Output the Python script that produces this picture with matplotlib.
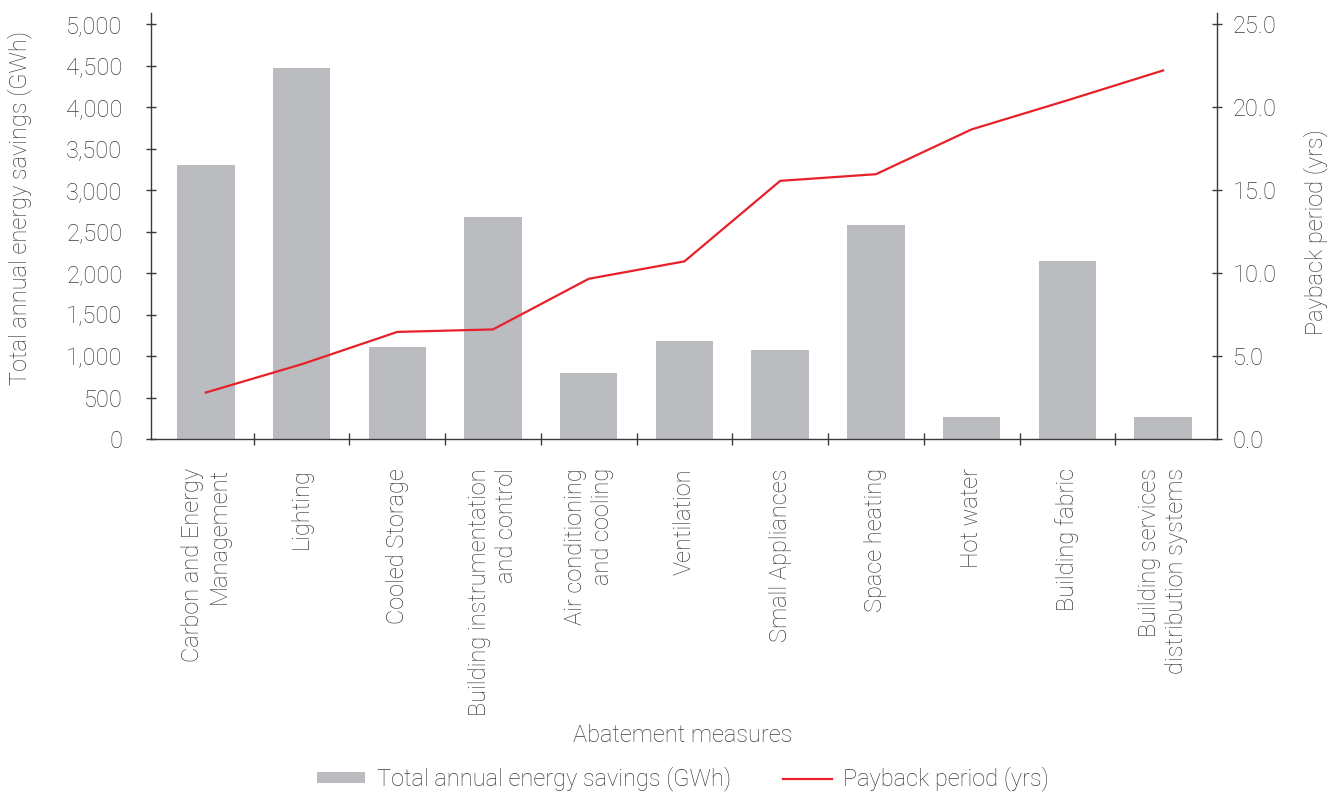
import matplotlib
matplotlib.use('Agg')
import matplotlib.pyplot as plt
import numpy as np
from matplotlib.ticker import FixedLocator, FuncFormatter

plt.rcParams['font.family'] = ['Roboto', 'DejaVu Sans']
plt.rcParams['font.weight'] = 'light'

# energy savings by abatement measure, with payback period
categories = ['Carbon and Energy\nManagement', 'Lighting', 'Cooled Storage',
              'Building instrumentation\nand control', 'Air conditioning\nand cooling',
              'Ventilation', 'Small Appliances', 'Space heating', 'Hot water',
              'Building fabric', 'Building services\ndistribution systems']
savings = [3300, 4470, 1110, 2675, 795, 1180, 1075, 2580, 265, 2145, 265]
payback = [2.8, 4.5, 6.45, 6.6, 9.65, 10.7, 15.55, 15.95, 18.65, 20.4, 22.2]

left_ticks = [0, 500, 1000, 1500, 2000, 2500, 3000, 3500, 4000, 4500, 5000]
right_ticks = [0, 5, 10, 15, 20, 25]

grey = '#bbbcc0'
red = '#e8202a'
txt = '#3c3c3c'
axc = '#3a3a3a'
fs = 17

fig = plt.figure(figsize=(13.38, 7.94), dpi=100)
ax = fig.add_axes([151/1338, 1-439/794, (1217-151)/1338, (439-13)/794])
ax2 = ax.twinx()

x = np.arange(len(categories))
bars = ax.bar(x, savings, width=0.6, color=grey, label='Total annual energy savings (GWh)', zorder=2)
line, = ax2.plot(x, payback, color=red, lw=1.6, label='Payback period (yrs)', zorder=3)

ax.set_xlim(-0.573, 10.563)
ax.set_ylim(0, 5133)
ax2.set_ylim(0, 25.66)

for a in (ax, ax2):
    a.spines['top'].set_visible(False)
    for s in a.spines.values():
        s.set_color(axc)
        s.set_linewidth(1.0)
ax.spines['right'].set_visible(False)
ax2.spines['left'].set_visible(False)
ax2.spines['bottom'].set_visible(False)

ax.yaxis.set_major_locator(FixedLocator(left_ticks))
ax.yaxis.set_major_formatter(FuncFormatter(lambda v, p: '{:,.0f}'.format(v)))
ax.tick_params(axis='y', direction='inout', length=7, width=1, color=axc,
               pad=17, labelsize=fs, labelcolor=txt)
ax2.yaxis.set_major_locator(FixedLocator(right_ticks))
ax2.yaxis.set_major_formatter(FuncFormatter(lambda v, p: '{:.1f}'.format(v)))
ax2.tick_params(axis='y', direction='inout', length=7, width=1, color=axc,
                pad=8, labelsize=fs, labelcolor=txt)

ax.set_xticks(x)
ax.set_xticklabels(categories, rotation=90, ha='center', va='top',
                   multialignment='right', fontsize=fs, color=txt)
ax.tick_params(axis='x', which='major', length=0, pad=21)
ax.set_xticks(np.arange(0.5, len(categories) - 1), minor=True)
ax.tick_params(axis='x', which='minor', direction='inout', length=8, width=1, color=axc)

fig.text(20/1338, 1-208/794, 'Total annual energy savings (GWh)', rotation=90,
         ha='center', va='center', fontsize=fs, color=txt)
fig.text(1316/1338, 1-232/794, 'Payback period (yrs)', rotation=90,
         ha='center', va='center', fontsize=fs, color=txt)
fig.text(683/1338, 1-735/794, 'Abatement measures', ha='center', va='center',
         fontsize=fs, color=txt)

leg = fig.legend(handles=[bars, line], loc='center', bbox_to_anchor=(683/1338, 1-779/794),
                 ncol=2, frameon=False, fontsize=fs, handlelength=2.05, handleheight=0.35,
                 handletextpad=0.5, columnspacing=2.2, labelcolor=txt)

plt.savefig('out.png', dpi=100)
